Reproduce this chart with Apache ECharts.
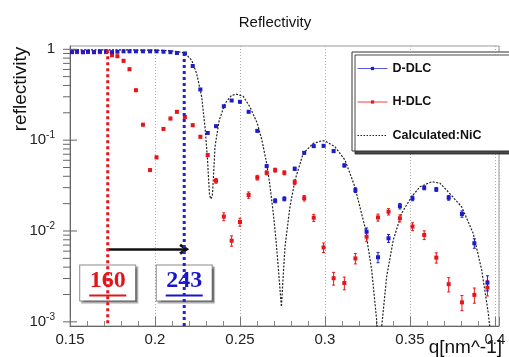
<!DOCTYPE html>
<html><head><meta charset="utf-8">
<script src="https://cdn.jsdelivr.net/npm/echarts@6/dist/echarts.min.js"></script>
<style>html,body{margin:0;padding:0;background:#fff}#c{width:509px;height:357px}</style>
</head><body><div id="c"></div>
<script>
// ---- data ----
const qValues = [0.1512,0.1541,0.1576,0.1606,0.1641,0.1676,0.1712,0.1747,0.1779,0.1815,
  0.1850,0.1888,0.1929,0.1971,0.2009,0.2050,0.2091,0.2129,0.2176,0.2222,
  0.2267,0.2310,0.2359,0.2405,0.2451,0.2500,0.2551,0.2602,0.2657,0.2707,
  0.2761,0.2822,0.2878,0.2934,0.2992,0.3051,0.3114,0.3179,0.3245,0.3312,
  0.3374,0.3441,0.3515,0.3584,0.3655,0.3728,0.3806,0.3879,0.3956];
const dDlcValues = [0.93,0.95,0.93,0.94,0.93,0.95,0.95,0.93,0.94,0.95,
  0.95,0.95,0.95,0.95,0.95,0.94,0.93,0.91,0.90,0.655,
  0.361,0.120,0.1425,0.236,0.273,0.264,0.205,0.1265,0.0518,0.0215,
  0.0226,0.0484,0.0725,0.0859,0.0866,0.0757,0.0527,0.0282,0.00982,0.00514,
  0.00832,0.0188,0.0229,0.0299,0.0287,0.0232,0.0154,0.00733,0.00270];
const hDlcValues = [0.95,0.93,0.93,0.94,0.93,0.93,0.93,0.859,0.838,0.747,
  0.603,0.354,0.148,0.0468,0.0646,0.133,0.173,0.205,0.180,0.146,
  0.109,0.0684,0.0357,0.0144,0.00782,0.01256,0.0249,0.0387,0.0437,0.0468,
  0.0437,0.0345,0.0230,0.0140,0.00659,0.00302,0.00268,0.00499,0.00865,0.0141,
  0.0163,0.0138,0.0112,0.00904,0.00509,0.00260,0.00164,0.00198,0.00238];
const dDlcErrPct = [2,2,2,2,2,2,2,2,2,2, 2,2,2,2,2,2,2,2,2,2,
  2,2,2,2,2,2,2,2,2,5, 5,4,3,3,3,3,4,6,10,13, 10,7,6,5,5,6,8,12,19];
const hDlcErrPct = [3,3,3,3,3,3,3,3,3,3, 3,3,3,3,3,3,3,3,3,3,
  3,3,6,10,13,10,8,6,5,5, 5,6,7,9,12,16,16,13,11,9, 8,9,10,11,13,18,19,19,19];
const calcQ = [0.1500,0.1794,0.2029,0.2088,0.2135,0.2176,0.2216,0.2245,0.2275,0.2294,
  0.2308,0.2314,0.2321,0.2329,0.2338,0.2343,0.2353,0.2378,0.2412,0.2451,
  0.2481,0.2519,0.2559,0.2602,0.2629,0.2657,0.2676,0.2696,0.2712,0.2725,
  0.2738,0.2744,0.2753,0.2765,0.2794,0.2824,0.2872,0.2931,0.2981,0.3000,
  0.3059,0.3118,0.3176,0.3235,0.3275,0.3304,0.3313,0.3325,0.3334,0.3363,
  0.3402,0.3451,0.3510,0.3559,0.3628,0.3676,0.3725,0.3804,0.3872,0.3922,
  0.3961,0.3971];
const calcValues = [0.987,0.987,0.975,0.963,0.939,0.911,0.757,0.541,0.299,0.140,
  0.0656,0.0412,0.0249,0.0225,0.0249,0.0363,0.0844,0.166,0.253,0.312,
  0.320,0.304,0.232,0.153,0.100,0.0555,0.0320,0.0157,0.00796,0.00405,
  0.00198,0.00147,0.00290,0.00672,0.0185,0.0363,0.0714,0.0920,0.0982,0.0982,
  0.0844,0.0603,0.0307,0.0111,0.00373,0.00105,0.0006,0.0006,0.00089,0.00315,
  0.00796,0.0157,0.0238,0.0307,0.0348,0.0337,0.0270,0.0185,0.00944,0.00373,
  0.00125,0.00082];
const seriesNames = ['D-DLC','H-DLC','Calculated:NiC'];
const xTickLabels = [0.15,0.2,0.25,0.3,0.35,0.4];
const yMajorTicks = [0.001,0.01,0.1,1];
const yMinorTicks = [];
[0.001,0.01,0.1].forEach(d => { for (let k = 2; k <= 9; k++) yMinorTicks.push(+(d*k).toPrecision(3)); });
const hCutoffQ = 0.1722, dCutoffQ = 0.2172;
const hCutoffLine = [[hCutoffQ, 0.975],[hCutoffQ, 0.0009]];
const dCutoffLine = [[dCutoffQ, 0.91],[dCutoffQ, 0.0009]];
const arrowLevel = 0.00629;
const boxLevel = 0.00268;
const boxTexts = ['160','243'];

const RED = '#e8141c', BLUE = '#1c1cc8', FONT = 'Liberation Sans, Arial, sans-serif';

function pairs(xs, ys){ return xs.map((x,i)=>[x, ys[i]]); }
function errSeries(values, errPct, color){
  return {
    type:'custom', silent:true, clip:true, z:3,
    data: qValues.map((q,i)=>[q, values[i], values[i]*(1-errPct[i]/100), values[i]*(1+errPct[i]/100)]),
    encode:{x:0, y:1},
    renderItem:(params, api)=>{
      const q = api.value(0);
      const lo = api.coord([q, api.value(2)]), hi = api.coord([q, api.value(3)]);
      const st = {stroke:color, lineWidth:1};
      return {type:'group', children:[
        {type:'line', shape:{x1:lo[0],y1:lo[1],x2:hi[0],y2:hi[1]}, style:st},
        {type:'line', shape:{x1:lo[0]-1.5,y1:lo[1],x2:lo[0]+1.5,y2:lo[1]}, style:st},
        {type:'line', shape:{x1:hi[0]-1.5,y1:hi[1],x2:hi[0]+1.5,y2:hi[1]}, style:st}
      ]};
    }
  };
}
function boxLabel(text, color){
  return {
    show:true, position:'inside', formatter:'{t|'+text+'}\n{u|}',
    backgroundColor:'#fff', borderColor:'#8a8a8a', borderWidth:1, padding:[3,9,3,9],
    shadowColor:'rgba(0,0,0,0.35)', shadowOffsetX:2, shadowOffsetY:2, shadowBlur:1,
    rich:{
      t:{fontFamily:'Liberation Serif, DejaVu Serif, serif', fontWeight:'bold', fontSize:24, lineHeight:25, color:color, align:'center'},
      u:{width:37, height:2, lineHeight:4, backgroundColor:color, align:'center'}
    }
  };
}

const chart = echarts.init(document.getElementById('c'), null, {renderer:'canvas'});
const yTickData = yMajorTicks.map(v=>[0.15, v, 1]).concat(yMinorTicks.map(v=>[0.15, v, 0]));

chart.setOption({
  animation:false,
  backgroundColor:'#fff',
  title:{text:'Reflectivity', left:270, top:10, textAlign:'center',
    textStyle:{fontFamily:FONT, fontSize:15, fontWeight:'normal', color:'#111'}},
  grid:{left:70, top:46, width:429, height:280, show:true, borderColor:'#999', borderWidth:1, outerBoundsMode:'none'},
  legend:{
    orient:'vertical', left:352, top:52, itemWidth:30, itemHeight:4, itemGap:20.5,
    padding:[10,37,9,5], backgroundColor:'#fff', borderColor:'#333', borderWidth:1,
    shadowColor:'rgba(40,40,40,0.85)', shadowOffsetX:3, shadowOffsetY:3, shadowBlur:0,
    selectedMode:false,
    textStyle:{fontFamily:FONT, fontWeight:'bold', fontSize:12.5, color:'#111'},
    lineStyle:{width:1, opacity:1},
    data:[
      {name:seriesNames[0], lineStyle:{width:1, opacity:1, color:'#5a5ae0'}},
      {name:seriesNames[1], lineStyle:{width:1, opacity:1, color:'#f04040'}},
      {name:seriesNames[2], itemStyle:{opacity:0}, lineStyle:{width:1, opacity:1, color:'#222', type:[1.5,1.5]}}
    ]
  },
  xAxis:{
    type:'value', min:0.15, max:0.4024, interval:0.05,
    axisLine:{show:true, lineStyle:{color:'#666', width:1}},
    axisTick:{show:true, inside:true, length:9, lineStyle:{color:'#777'}},
    minorTick:{show:true, splitNumber:5, length:5, lineStyle:{color:'#888'}},
    splitLine:{show:true, lineStyle:{color:'#aaa', type:[1,2], width:1}},
    axisLabel:{margin:6, fontFamily:FONT, fontSize:15, color:'#222',
      formatter:v=>{ const r=v/0.05; if (Math.abs(r-Math.round(r))>1e-6) return ''; const s=xTickLabels.find(t=>Math.abs(t-v)<1e-9); return s===undefined?'':String(s);} }
  },
  yAxis:{
    type:'log', logBase:10, min:0.0009, max:1.087,
    axisLine:{show:true, lineStyle:{color:'#666', width:1}},
    axisTick:{show:false}, splitLine:{show:false}, minorTick:{show:false},
    axisLabel:{margin:15, fontFamily:FONT, fontSize:15, color:'#222',
      formatter:v=>{ const l=Math.log10(v), e=Math.round(l); if (Math.abs(l-e)>1e-6) return ''; if (e===0) return '{b|1}'; return '{b|10}{s|'+e+'}'; },
      rich:{b:{fontFamily:FONT, fontSize:15, color:'#222'}, s:{fontFamily:FONT, fontSize:10, color:'#222', padding:[0,0,9,0]}}
    }
  },
  graphic:[
    {type:'text', x:21, y:89, rotation:Math.PI/2,
      style:{text:'reflectivity', fontFamily:FONT, fontSize:19, fill:'#111', align:'center', verticalAlign:'middle'}},
    {type:'text', right:7, top:338,
      style:{text:'q[nm^-1]', fontFamily:FONT, fontSize:19, fill:'#111'}}
  ],
  series:[
    {type:'custom', silent:true, clip:false, z:6, data:yTickData, encode:{x:0,y:1},
      renderItem:(params, api)=>{
        const p = api.coord([api.value(0), api.value(1)]);
        const major = api.value(2) === 1;
        return {type:'line', shape:{x1:p[0]-7, y1:p[1], x2:p[0]+(major?7:0), y2:p[1]}, style:{stroke:'#666', lineWidth:1}};
      }},
    {name:seriesNames[2], type:'line', data:pairs(calcQ, calcValues), symbol:'none', clip:true, z:2,
      lineStyle:{color:'#222', width:1.2, type:[2,1.5]}, itemStyle:{color:'#222'}},
    errSeries(hDlcValues, hDlcErrPct, RED),
    errSeries(dDlcValues, dDlcErrPct, BLUE),
    {name:seriesNames[1], type:'line', data:pairs(qValues, hDlcValues), symbol:'rect', symbolSize:4, clip:true, z:4,
      itemStyle:{color:RED}, lineStyle:{color:RED, width:0, opacity:0}},
    {name:seriesNames[0], type:'line', data:pairs(qValues, dDlcValues), symbol:'rect', symbolSize:4, clip:true, z:4,
      itemStyle:{color:BLUE}, lineStyle:{color:BLUE, width:0, opacity:0}},
    {type:'line', data:hCutoffLine, symbol:'none', z:5, silent:true,
      lineStyle:{color:RED, width:3, type:[3,3]},
      markLine:{silent:true, symbol:['none','path://M5,0 L10,8 L8,9.6 L5,4.8 L2,9.6 L0,8 Z'], symbolSize:[11,10],
        label:{show:false}, lineStyle:{color:'#111', width:2.5, type:'solid'},
        data:[[{coord:[hCutoffQ, arrowLevel]},{coord:[dCutoffQ, arrowLevel]}]]},
      markPoint:{silent:true, symbol:'rect', symbolSize:1, itemStyle:{color:'rgba(0,0,0,0)'},
        data:[{coord:[hCutoffQ, boxLevel], label:boxLabel(boxTexts[0], '#e0161e')}]}},
    {type:'line', data:dCutoffLine, symbol:'none', z:5, silent:true,
      lineStyle:{color:'#1f1fe0', width:3, type:[3,3]},
      markPoint:{silent:true, symbol:'rect', symbolSize:1, itemStyle:{color:'rgba(0,0,0,0)'},
        data:[{coord:[dCutoffQ, boxLevel], label:boxLabel(boxTexts[1], '#1616c8')}]}}
  ]
});
</script></body></html>
